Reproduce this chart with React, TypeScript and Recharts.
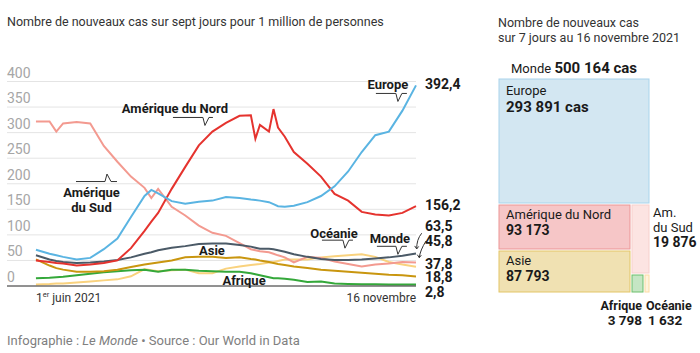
import { LineChart, Line, XAxis, YAxis, CartesianGrid, ReferenceDot, Treemap } from "recharts";

// days since 1 June 2021
const days = [0, 6, 9, 12, 18, 24, 30, 36, 42, 48, 51, 54, 60, 66, 72, 78, 84, 90, 95, 97, 99, 103, 105, 107, 110, 114, 120, 126, 132, 138, 144, 150, 156, 162, 168];

const europe = [71, 63, 60, 57, 52, 55, 72, 93, 135, 176, 188, 181, 166, 161, 165, 167, 174, 172, 169, 168, 167, 164, 160, 156, 155, 157, 164, 176, 195, 224, 262, 295, 302, 343, 392.4];
const northAmerica = [50, 47, 45, 44, 40, 42, 45, 50, 74, 108, 126, 143, 190, 233, 275, 302, 319, 333, 334, 288, 315, 302, 346, 310, 292, 262, 239, 214, 180, 167, 145, 140, 138, 143, 156.2];
const southAmerica = [322, 322, 302, 318, 321, 318, 274, 243, 214, 192, 172, 190, 155, 138, 118, 104, 98, 84, 72, 70, 68, 66, 63, 60, 56, 46, 57, 55, 48, 43, 38, 42, 44, 47, 45.8];
const world = [60, 52, 49, 47, 45, 46, 48, 51, 56, 63, 66, 70, 75, 78, 82, 83, 83, 80, 77, 75, 73, 73, 72, 70, 67, 62, 57, 53, 51, 51, 52, 54, 56, 59, 63.5];
const asia = [52, 40, 35, 32, 28, 28, 29, 32, 37, 42, 44, 46, 50, 56, 57, 57, 55, 56, 53, 52, 50, 47, 45, 43, 41, 38, 35, 32, 30, 28, 26, 24, 22, 21, 18.8];
const africa = [15, 16, 17, 18, 21, 24, 27, 29, 31, 32, 30, 28, 32, 32, 30, 29, 28, 28, 25, 23, 21, 17, 15, 15, 14, 12, 8, 9, 5, 4, 3.5, 3.2, 3, 3, 2.8];
const oceania = [3, 4, 5, 5, 7, 9, 11, 13, 19, 33, 31, 29, 31, 32, 25, 25, 34, 38, 41, 42, 43, 46, 47, 49, 52, 52, 52, 56, 58, 60, 62, 57, 47, 42, 37.8];

const yTicks = [0, 50, 100, 150, 200, 250, 300, 350, 400];
const xTicks = [0, 168];

// treemap: new cases over 7 days at 16 Nov 2021
const regions = ["Europe", "Amérique du Nord", "Asie", "Am. du Sud", "Afrique", "Océanie"];
const weeklyCases = [293891, 93173, 87793, 19876, 3798, 1632];
const worldCases = 500164;

const FONT = "Roboto, 'Liberation Sans', Arial, sans-serif";
const INK = "#1a1a1a";

// drawing order: first = bottom
const SERIES = [
  { key: "oceania", values: oceania, color: "#f9d27e", dy: -3 },
  { key: "africa", values: africa, color: "#34a83a", dy: 7 },
  { key: "asia", values: asia, color: "#c9960f", dy: 1 },
  { key: "southAmerica", values: southAmerica, color: "#f39a90", dy: -21.6, arrow: { sx: 10, sy: -21.6, cx: 4, cy: -12, ex: 3.3, ey: -4.9 } },
  { key: "world", values: world, color: "#4b5a67", dy: -28, arrow: { sx: 5.7, sy: -20.3, cx: 0.5, cy: -14, ex: 0.7, ey: -4.6 } },
  { key: "northAmerica", values: northAmerica, color: "#e5332e", dy: -1 },
  { key: "europe", values: europe, color: "#5ab4e2", dy: -1 },
];

const chartData = days.map((day, i) => {
  const row: Record<string, number> = { day };
  SERIES.forEach((s) => (row[s.key] = s.values[i]));
  return row;
});

// annotations anchored in data space (day, value)
const NOTES = [
  { day: 160, value: 361, pointer: "down", l: -22, r: 9, lines: [{ t: "Europe", dx: -10, dy: -12 }] },
  { day: 74.7, value: 314, pointer: "down", l: -32, r: 8, lines: [{ t: "Amérique du Nord", dx: -30, dy: -12 }] },
  { day: 31.4, value: 219, pointer: "up", l: -31, r: 10, lines: [{ t: "Amérique", dx: -15.5, dy: 23 }, { t: "du Sud", dx: -15.5, dy: 38 }] },
  { day: 136.6, value: 74, pointer: "down", l: -23, r: 8, lines: [{ t: "Océanie", dx: -11, dy: -10 }] },
  { day: 160, value: 62, pointer: "down", l: -21, r: 9, lines: [{ t: "Monde", dx: -8, dy: -11.5 }] },
  { day: 77.8, value: 61, pointer: "", l: 0, r: 0, lines: [{ t: "Asie", dx: 0, dy: 0 }] },
  { day: 92, value: 0, pointer: "", l: 0, r: 0, lines: [{ t: "Afrique", dx: 0, dy: -1 }] },
];

const CELL_STYLE: Record<string, any> = {
  Europe: { fill: "#d3e7f2", stroke: "#a9d4ec", mode: "inside", big: true },
  "Amérique du Nord": { fill: "#f6c6c7", stroke: "#ec9595", mode: "inside" },
  Asie: { fill: "#f0e1b2", stroke: "#e3c567", mode: "inside" },
  "Am. du Sud": { fill: "#fce4e2", stroke: "#f7d0cc", mode: "right", lines: ["Am.", "du Sud"] },
  Afrique: { fill: "#c5e6c4", stroke: "#6cbf6c", mode: "below-end" },
  Océanie: { fill: "#fef3dd", stroke: "#fcdca4", mode: "below-start" },
};

const treeData = [
  { name: regions[0], size: weeklyCases[0] },
  {
    name: "reste",
    children: [
      { name: "nord-asie", children: [1, 2].map((i) => ({ name: regions[i], size: weeklyCases[i] })) },
      { name: "sud", children: [3, 4, 5].map((i) => ({ name: regions[i], size: weeklyCases[i] })) },
    ],
  },
];

const fmtInt = (n: number) => String(n).replace(/\B(?=(\d{3})+(?!\d))/g, " ");
const fmtDec = (n: number) => n.toFixed(1).replace(".", ",");

function YTick({ y, payload }: any) {
  return (
    <text x={7} y={y - 4} fill="#a6a6a6" fontSize={14} fontFamily={FONT}>
      {payload.value}
    </text>
  );
}

function XTick({ x, y, payload }: any) {
  const first = payload.value === xTicks[0];
  return (
    <text x={x} y={y + 8} textAnchor={first ? "start" : "end"} fill="#333" fontSize={12} fontFamily={FONT}>
      {first ? (
        <>
          <tspan>1</tspan>
          <tspan fontSize={7.5} dy={-5}>er</tspan>
          <tspan dy={5}> juin 2021</tspan>
        </>
      ) : (
        "16 novembre"
      )}
    </text>
  );
}

function Note({ cx, cy, note }: any) {
  if (cx == null || cy == null) return null;
  const ly = note.pointer === "up" ? 7.5 : -8;
  return (
    <g>
      {note.pointer && (
        <path
          d={`M${cx + note.l},${cy + ly} H${cx - 2} L${cx},${cy} L${cx + 4},${cy + ly} H${cx + note.r}`}
          fill="none"
          stroke="#333"
          strokeWidth={1}
        />
      )}
      {note.lines.map((ln: any) => (
        <text key={ln.t} x={cx + ln.dx} y={cy + ln.dy} textAnchor="middle" fontSize={13} fontWeight={700} fill={INK} fontFamily={FONT}>
          {ln.t}
        </text>
      ))}
    </g>
  );
}

function EndLabel({ cx, cy, s }: any) {
  if (cx == null || cy == null) return null;
  const a = s.arrow;
  return (
    <g>
      {a && (
        <g fill="none" stroke="#333" strokeWidth={1}>
          <path d={`M${cx + a.sx},${cy + a.sy} Q${cx + a.cx},${cy + a.cy} ${cx + a.ex},${cy + a.ey}`} />
          <path d={`M${cx + a.ex - 2},${cy + a.ey - 3} L${cx + a.ex},${cy + a.ey} L${cx + a.ex + 2},${cy + a.ey - 2.5}`} />
        </g>
      )}
      <text x={cx + 9} y={cy + s.dy + 5} fontSize={14} fontWeight={700} fill={INK} fontFamily={FONT}>
        {fmtDec(s.values[s.values.length - 1])}
      </text>
    </g>
  );
}

function TreeCell(props: any) {
  const { x, y, width, height, name } = props;
  const st = CELL_STYLE[name];
  if (!st || props.children?.length) return null;
  const value = props.size ?? props.value;
  const txt = { fontFamily: FONT, fill: INK };
  const end = st.mode === "below-end";
  return (
    <g>
      <rect x={x + 1} y={y + 1} width={Math.max(width - 2, 1)} height={Math.max(height - 2, 0)} fill={st.fill} stroke={st.stroke} strokeWidth={1} />
      {st.mode === "inside" && (
        <>
          <text x={x + 8} y={y + (st.big ? 17 : 15)} fontSize={13} {...txt}>{name}</text>
          <text x={x + 8} y={y + (st.big ? 34 : 31)} fontSize={st.big ? 15 : 14} fontWeight={700} {...txt}>
            {fmtInt(value)}{st.big ? " cas" : ""}
          </text>
        </>
      )}
      {st.mode === "right" && (
        <>
          {st.lines.map((t: string, i: number) => (
            <text key={t} x={x + width + 3} y={y + 13 + i * 15} fontSize={13} {...txt}>{t}</text>
          ))}
          <text x={x + width + 3} y={y + 43} fontSize={14} fontWeight={700} {...txt}>{fmtInt(value)}</text>
        </>
      )}
      {(st.mode === "below-end" || st.mode === "below-start") && (
        <>
          <text x={end ? x + width - 2 : x + 2} y={y + height + 17} textAnchor={end ? "end" : "start"} fontSize={12.5} fontWeight={700} {...txt}>
            {name}
          </text>
          <text x={end ? x + width - 2 : x + 4} y={y + height + 32} textAnchor={end ? "end" : "start"} fontSize={13.5} fontWeight={700} {...txt}>
            {fmtInt(value)}
          </text>
        </>
      )}
    </g>
  );
}

export default function App() {
  return (
    <div style={{ position: "absolute", left: 0, top: 0, width: 700, height: 353, background: "#fff", fontFamily: FONT, color: "#333", overflow: "hidden" }}>
      <style>{`.tm .recharts-surface, .tm .recharts-wrapper { overflow: visible !important; }`}</style>

      <div style={{ position: "absolute", left: 7, top: 14, fontSize: 12.5, lineHeight: "16px", whiteSpace: "nowrap" }}>
        Nombre de nouveaux cas sur sept jours pour 1 million de personnes
      </div>

      <div style={{ position: "absolute", left: 0, top: 0 }}>
        <LineChart width={480} height={353} data={chartData} margin={{ top: 81.5, right: 64, bottom: 47, left: 6 }}>
          <CartesianGrid vertical={false} stroke="#e4e4e4" />
          <XAxis
            type="number"
            dataKey="day"
            domain={[-12.8, 168]}
            ticks={xTicks}
            tick={<XTick />}
            tickLine={false}
            axisLine={{ stroke: "#333" }}
            height={20}
          />
          <YAxis domain={[0, 400]} ticks={yTicks} interval={0} tick={<YTick />} axisLine={false} tickLine={false} width={1} />
          {SERIES.map((s) => (
            <Line
              key={s.key}
              type="linear"
              dataKey={s.key}
              stroke={s.color}
              strokeWidth={2}
              dot={false}
              isAnimationActive={false}
            />
          ))}
          {SERIES.map((s) => (
            <ReferenceDot
              key={"end-" + s.key}
              x={days[days.length - 1]}
              y={s.values[s.values.length - 1]}
              ifOverflow="visible"
              shape={(p: any) => <EndLabel {...p} s={s} />}
            />
          ))}
          {NOTES.map((n) => (
            <ReferenceDot
              key={"note-" + n.lines[0].t}
              x={n.day}
              y={n.value}
              ifOverflow="visible"
              shape={(p: any) => <Note {...p} note={n} />}
            />
          ))}
        </LineChart>
      </div>

      <div style={{ position: "absolute", left: 498, top: 16, fontSize: 12.5, lineHeight: "14.5px" }}>
        Nombre de nouveaux cas
        <br />
        sur 7 jours au 16 novembre 2021
      </div>
      <div style={{ position: "absolute", left: 511, top: 58, whiteSpace: "nowrap", color: INK }}>
        <span style={{ fontSize: 13 }}>Monde </span>
        <span style={{ fontSize: 15, fontWeight: 700 }}>{fmtInt(worldCases)} cas</span>
      </div>

      <div className="tm" style={{ position: "absolute", left: 498, top: 78 }}>
        <Treemap width={152} height={215} data={treeData} dataKey="size" isAnimationActive={false} content={<TreeCell />} />
      </div>

      <div style={{ position: "absolute", left: 7, top: 333, fontSize: 13, color: "#808080", whiteSpace: "nowrap" }}>
        Infographie : <i>Le Monde</i> • Source : Our World in Data
      </div>
    </div>
  );
}
